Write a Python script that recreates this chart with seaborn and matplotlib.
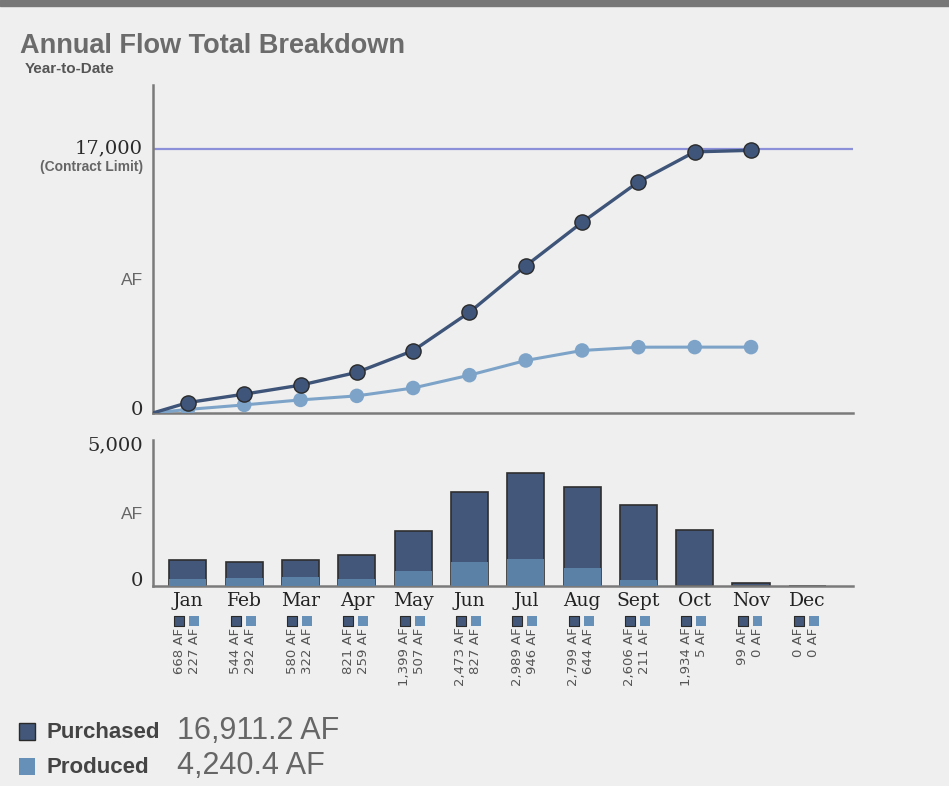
import numpy as np
import pandas as pd
import matplotlib
matplotlib.use("Agg")
import matplotlib.pyplot as plt
import matplotlib.transforms as mtrans
from matplotlib.patches import Rectangle
import seaborn as sns

# data (AF per month)
months = ["Jan", "Feb", "Mar", "Apr", "May", "Jun", "Jul", "Aug", "Sept", "Oct", "Nov", "Dec"]
purchased = [668, 544, 580, 821, 1399, 2473, 2989, 2799, 2606, 1934, 99, 0]
produced = [227, 292, 322, 259, 507, 827, 946, 644, 211, 5, 0, 0]
reported = 11  # months reported so far (Jan-Nov)
contract_limit = 17000
totals_text = ["16,911.2 AF", "4,240.4 AF"]

BG = "#efefef"
C_PUR = "#425779"
C_PRO = "#5b82a6"
C_PRO_LINE = "#7da4c8"
SPINE = "#7a7a7a"

sns.set_style("white", {"axes.facecolor": BG, "figure.facecolor": BG})
plt.rcParams["font.family"] = ["Liberation Sans", "DejaVu Sans"]

df = pd.DataFrame({"month": months, "purchased": purchased, "produced": produced})
df["total"] = df["purchased"] + df["produced"]
df["x"] = np.arange(len(months))
cum = df.iloc[:reported].copy()
cum["cum_pur"] = cum["purchased"].cumsum()
cum["cum_pro"] = cum["produced"].cumsum()

fig = plt.figure(figsize=(9.49, 7.86), dpi=100)
fig.patch.set_facecolor(BG)
fig.patches.append(Rectangle((0, 1 - 6 / 786), 1, 6 / 786, transform=fig.transFigure,
                             color="#777777", zorder=0))

ax1 = fig.add_axes([0.1612, 0.4746, 0.7376, 0.4173])
ax2 = fig.add_axes([0.1612, 0.2545, 0.7376, 0.1858])
xlim = (-0.62, 11.81)

# ---- cumulative lines
start = xlim[0]
xs_p = [start] + list(cum["x"])
sns.lineplot(x=xs_p, y=[0] + list(cum["cum_pro"]), ax=ax1, color=C_PRO_LINE, lw=2.2, zorder=3)
sns.scatterplot(x=cum["x"], y=cum["cum_pro"], ax=ax1, color=C_PRO_LINE, s=110,
                edgecolor="none", zorder=4)
sns.lineplot(x=xs_p, y=[0] + list(cum["cum_pur"]), ax=ax1, color="#3e5478", lw=2.4, zorder=5)
sns.scatterplot(x=cum["x"], y=cum["cum_pur"], ax=ax1, color="#3f5579", s=120,
                edgecolor="#2a2a2a", linewidth=1, zorder=6)
ax1.axhline(contract_limit, color="#8b90d8", lw=1.6, zorder=2)
ax1.set_xlim(*xlim)
ax1.set_ylim(0, 21120)

# ---- stacked bars
sns.barplot(data=df, x="month", y="total", ax=ax2, color=C_PUR, saturation=1,
            width=0.66, edgecolor="#2e2e2e", linewidth=1.2, zorder=2)
sns.barplot(data=df, x="month", y="produced", ax=ax2, color=C_PRO, saturation=1,
            width=0.66, edgecolor="none", linewidth=0, zorder=3)
ax2.set_xlim(*xlim)
ax2.set_ylim(0, 5105)

for ax in (ax1, ax2):
    ax.set_xlabel("")
    ax.set_ylabel("")
    ax.set_yticks([])
    for s in ("top", "right"):
        ax.spines[s].set_visible(False)
    for s in ("left", "bottom"):
        ax.spines[s].set_color(SPINE)
        ax.spines[s].set_linewidth(1.8)
ax1.set_xticks([])

ax2.set_xticks(df["x"])
ax2.set_xticklabels(months, family="DejaVu Serif", fontsize=13.5, color="#222222")
ax2.tick_params(axis="x", length=0, pad=4)

# y labels
def ylab(ax, y, s, fam, size, color, dy=0, weight="normal"):
    tr = mtrans.offset_copy(mtrans.blended_transform_factory(ax.transAxes, ax.transData),
                            fig=fig, x=-10, y=dy, units="dots")
    ax.text(0, y, s, transform=tr, ha="right", va="center", family=fam, fontsize=size,
            color=color, fontweight=weight)

ylab(ax1, contract_limit, "17,000", "DejaVu Serif", 14, "#2a2a2a", 1)
ylab(ax1, contract_limit, "(Contract Limit)", "Liberation Sans", 10, "#666666", -18, "bold")
ylab(ax1, contract_limit / 2, "AF", "Liberation Sans", 12.5, "#666666", 0)
ylab(ax1, 0, "0", "DejaVu Serif", 14, "#2a2a2a", 3)
ylab(ax2, 5000, "5,000", "DejaVu Serif", 14, "#2a2a2a", -2)
ylab(ax2, 2500, "AF", "Liberation Sans", 12.5, "#666666", 0)
ylab(ax2, 0, "0", "DejaVu Serif", 14, "#2a2a2a", 5)

# squares + monthly values under each month
base = mtrans.blended_transform_factory(ax2.transData, ax2.transAxes)
for dx, col, vals in ((-8.5, C_PUR, purchased), (6.5, "#6690b8", produced)):
    tr = mtrans.offset_copy(base, fig=fig, x=dx, y=0, units="dots")
    ax2.scatter(df["x"], [-0.24] * len(df), transform=tr, marker="s", s=50, color=col,
                edgecolor="#2a2a2a" if col == C_PUR else "none", linewidth=0.8,
                clip_on=False, zorder=5)
    for xi, v in zip(df["x"], vals):
        ax2.text(xi, -0.285, f"{v:,} AF", transform=tr, rotation=90, ha="center", va="top",
                 fontsize=9.5, color="#555555", family="DejaVu Sans")

# title
fig.text(20 / 949, 1 - 46 / 786, "Annual Flow Total Breakdown", fontsize=19.5,
         fontweight="bold", color="#6b6b6b", va="center", ha="left")
fig.text(25 / 949, 1 - 69 / 786, "Year-to-Date", fontsize=11, fontweight="bold",
         color="#555555", va="center", ha="left")

# bottom legend
for yc, col, lab, tot in ((731.5, C_PUR, "Purchased", totals_text[0]),
                          (766, "#6690b8", "Produced", totals_text[1])):
    fig.patches.append(Rectangle((19 / 949, 1 - (yc + 8.5) / 786), 16 / 949, 17 / 786,
                                 transform=fig.transFigure, facecolor=col,
                                 edgecolor="#2a2a2a" if col == C_PUR else "none", lw=1))
    fig.text(47 / 949, 1 - (yc + 1.5) / 786, lab, fontsize=16, fontweight="bold",
             color="#444444", va="center", ha="left")
    fig.text(177 / 949, 1 - (yc - 0.5) / 786, tot, fontsize=22, color="#666666",
             va="center", ha="left")

fig.savefig("out.png", dpi=100, facecolor=BG)
